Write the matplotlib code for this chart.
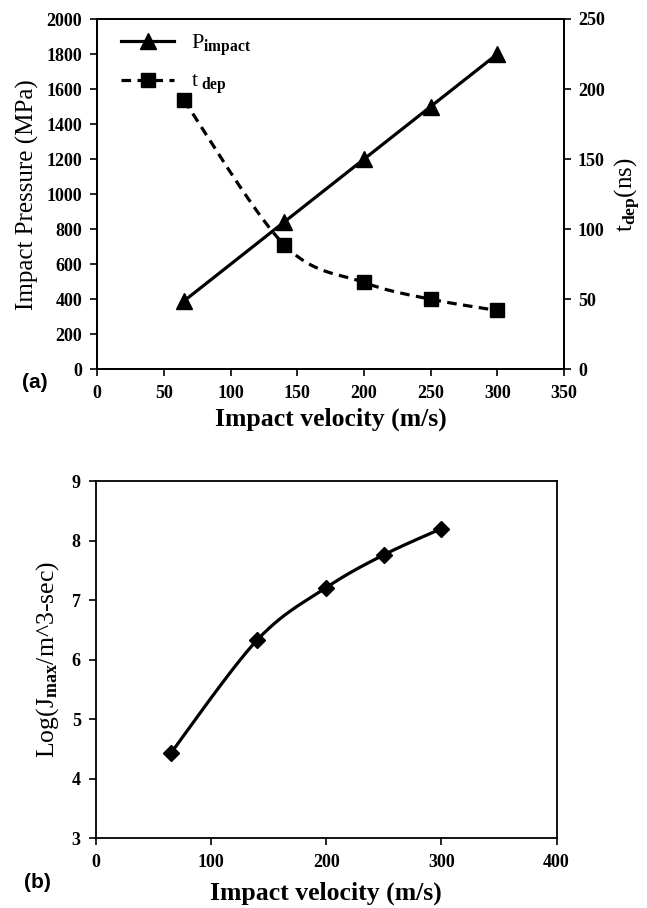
import numpy as np
import matplotlib
matplotlib.use("Agg")
import matplotlib.pyplot as plt
from matplotlib.lines import Line2D

plt.rcParams['font.family'] = ['Liberation Serif', 'DejaVu Serif']
plt.rcParams['mathtext.fontset'] = 'custom'
plt.rcParams['mathtext.rm'] = 'Liberation Serif'
plt.rcParams['mathtext.it'] = 'Liberation Serif:italic'
plt.rcParams['mathtext.bf'] = 'Liberation Serif:bold'

# ---- data ----
velocity = [65, 140, 200, 250, 300]
p_impact = [390, 840, 1200, 1500, 1800]
t_dep = [192, 89, 62, 50, 42]
log_jmax = [4.43, 6.33, 7.21, 7.76, 8.20]

top_xticks = [0, 50, 100, 150, 200, 250, 300, 350]
top_yticks = [0, 200, 400, 600, 800, 1000, 1200, 1400, 1600, 1800, 2000]
top_y2ticks = [0, 50, 100, 150, 200, 250]
bot_xticks = [0, 100, 200, 300, 400]
bot_yticks = [3, 4, 5, 6, 7, 8, 9]


def smooth(x, y, n=40):
    """Catmull-Rom style smoothing (like spreadsheet smoothed lines)."""
    x = np.asarray(x, float); y = np.asarray(y, float)
    P = np.column_stack([x, y])
    P = np.vstack([P[0], P, P[-1]])
    out = []
    t = np.linspace(0, 1, n)
    for i in range(1, len(P) - 2):
        p0, p1, p2, p3 = P[i-1], P[i], P[i+1], P[i+2]
        c1 = p1 + (p2 - p0) / 6.0
        c2 = p2 - (p3 - p1) / 6.0
        seg = ((1-t)**3)[:, None]*p1 + (3*(1-t)**2*t)[:, None]*c1 + (3*(1-t)*t**2)[:, None]*c2 + (t**3)[:, None]*p2
        out.append(seg if i == 1 else seg[1:])
    s = np.vstack(out)
    return s[:, 0], s[:, 1]


fig = plt.figure(figsize=(6.47, 9.08), dpi=100)
W, H = 647, 908

lw = 2.3
TICK_FS = 13


def style(a, pad=7):
    a.tick_params(direction='out', length=5, width=1.2, pad=pad)
    for lab in a.get_xticklabels() + a.get_yticklabels():
        lab.set_fontsize(TICK_FS); lab.set_fontweight('bold')
    for s in a.spines.values():
        s.set_linewidth(1.3)


# ---- top panel ----
L, R, T, B = 97.3, 564, 19, 369.3
ax1 = fig.add_axes([L/W, 1-B/H, (R-L)/W, (B-T)/H])
ax1.plot(velocity, p_impact, color='black', lw=lw, marker='^', ms=11, zorder=3)
ax1.set_xlim(0, 350)
ax1.set_ylim(0, 2000)
ax1.set_xticks(top_xticks)
ax1.set_yticks(top_yticks)
ax2 = ax1.twinx()
sx, sy = smooth(velocity, t_dep)
ax2.plot(sx, sy, color='black', lw=lw, linestyle=(0, (3, 2)))
ax2.plot(velocity, t_dep, linestyle='none', marker='s', ms=9.5, color='black')
ax2.set_ylim(0, 250)
ax2.set_yticks(top_y2ticks)
style(ax1, pad=6)
style(ax2, pad=5)

ax1.set_ylabel('Impact Pressure (MPa)', fontsize=18, labelpad=5)
ax1.set_xlabel('Impact velocity (m/s)', fontsize=18.5, fontweight='bold')
ax1.xaxis.set_label_coords(0.5, (B-408)/(B-T))
ax2.set_ylabel(r'$\mathrm{t}_{\mathbf{dep}}\mathrm{(ns)}$', fontsize=18, labelpad=6)

handles = [
    Line2D([], [], color='black', lw=lw, marker='^', ms=11),
    Line2D([], [], color='black', lw=lw, linestyle=(0, (3, 2)), marker='s', ms=9.5),
]
labels = [r'$\mathrm{P}_{\mathbf{impact}}$', r'$\mathrm{t}_{\ \mathbf{dep}}$']
ax1.legend(handles, labels, loc='upper left', bbox_to_anchor=((121-L)/(R-L), (B-32)/(B-T)),
           frameon=False, borderaxespad=0, borderpad=0,
           fontsize=16, handlelength=2.4, handletextpad=0.75, labelspacing=0.65)

fig.text(35/W, 1-383/H, '(a)', fontsize=15, fontweight='bold', family='Liberation Sans',
         ha='center', va='center')

# ---- bottom panel ----
L2, R2, T2, B2 = 96, 556.5, 481, 838.3
ax3 = fig.add_axes([L2/W, 1-B2/H, (R2-L2)/W, (B2-T2)/H])
bx, by = smooth(velocity, log_jmax)
ax3.plot(bx, by, color='black', lw=lw)
ax3.plot(velocity, log_jmax, linestyle='none', marker='D', ms=8.5, color='black')
ax3.set_xlim(0, 400)
ax3.set_ylim(3, 9)
ax3.set_xticks(bot_xticks)
ax3.set_yticks(bot_yticks)
style(ax3, pad=6)
ax3.set_ylabel(r'Log$(\mathrm{J}_{\mathbf{max}}$/m^3-sec)', fontsize=18.5, labelpad=8)
ax3.set_xlabel('Impact velocity (m/s)', fontsize=18.5, fontweight='bold')
ax3.xaxis.set_label_coords(0.5, (B2-882)/(B2-T2))

fig.text(37/W, 1-883/H, '(b)', fontsize=15, fontweight='bold', family='Liberation Sans',
         ha='center', va='center')

fig.savefig('out.png', dpi=100)
